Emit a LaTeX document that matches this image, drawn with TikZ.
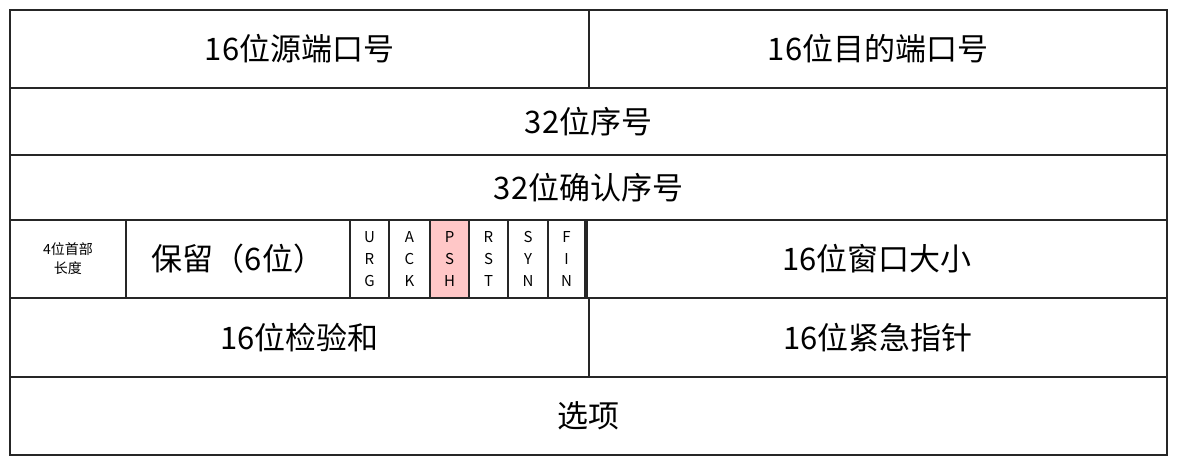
\documentclass[tikz,border=0pt]{standalone}
\usepackage{fontspec}
\newfontfamily\cjk{Noto Sans CJK SC}
\begin{document}
\begin{tikzpicture}[x=1pt,y=-1pt,
 cell/.style={draw=black!85,line width=1.1pt,inner sep=0pt,font=\cjk\fontsize{31}{34}\selectfont},
 flag/.style={cell,font=\cjk\fontsize{15}{22}\selectfont,align=center}]
\useasboundingbox (0,0) rectangle (1177,465);
\node[cell,minimum width=579pt,minimum height=78pt] (sp) at (299.5,49) {16位源端口号};
\node[cell,minimum width=578pt,minimum height=78pt] (dp) at (878,49) {16位目的端口号};
\node[cell,minimum width=1157pt,minimum height=67pt] (seq) at (588.5,121.5) {32位序号};
\node[cell,minimum width=1157pt,minimum height=65pt] (ack) at (588.5,187.5) {32位确认序号};
\node[cell,font=\cjk\fontsize{14}{19}\selectfont,align=center,minimum width=116pt,minimum height=78pt] (hl) at (68,259) {4位首部\\长度};
\node[cell,minimum width=224pt,minimum height=78pt] (rs) at (238,259) {保留（6位）};
\node[flag,minimum width=39pt,minimum height=78pt] (u) at (369.5,259) {U\\R\\G};
\node[flag,minimum width=41pt,minimum height=78pt] (a) at (409.5,259) {A\\C\\K};
\node[flag,fill=red!22,minimum width=39pt,minimum height=78pt] (p) at (449.5,259) {P\\S\\H};
\node[flag,minimum width=39pt,minimum height=78pt] (r) at (488.5,259) {R\\S\\T};
\node[flag,minimum width=40pt,minimum height=78pt] (s) at (528,259) {S\\Y\\N};
\node[flag,minimum width=37pt,minimum height=78pt] (f) at (566.5,259) {F\\I\\N};
\node[cell,minimum width=580pt,minimum height=78pt] (win) at (877,259) {16位窗口大小};
\node[cell,minimum width=579pt,minimum height=79pt] (cs) at (299.5,337.5) {16位检验和};
\node[cell,minimum width=578pt,minimum height=79pt] (up) at (878,337.5) {16位紧急指针};
\node[cell,minimum width=1157pt,minimum height=78pt] (op) at (588.5,416) {选项};
\end{tikzpicture}
\end{document}
